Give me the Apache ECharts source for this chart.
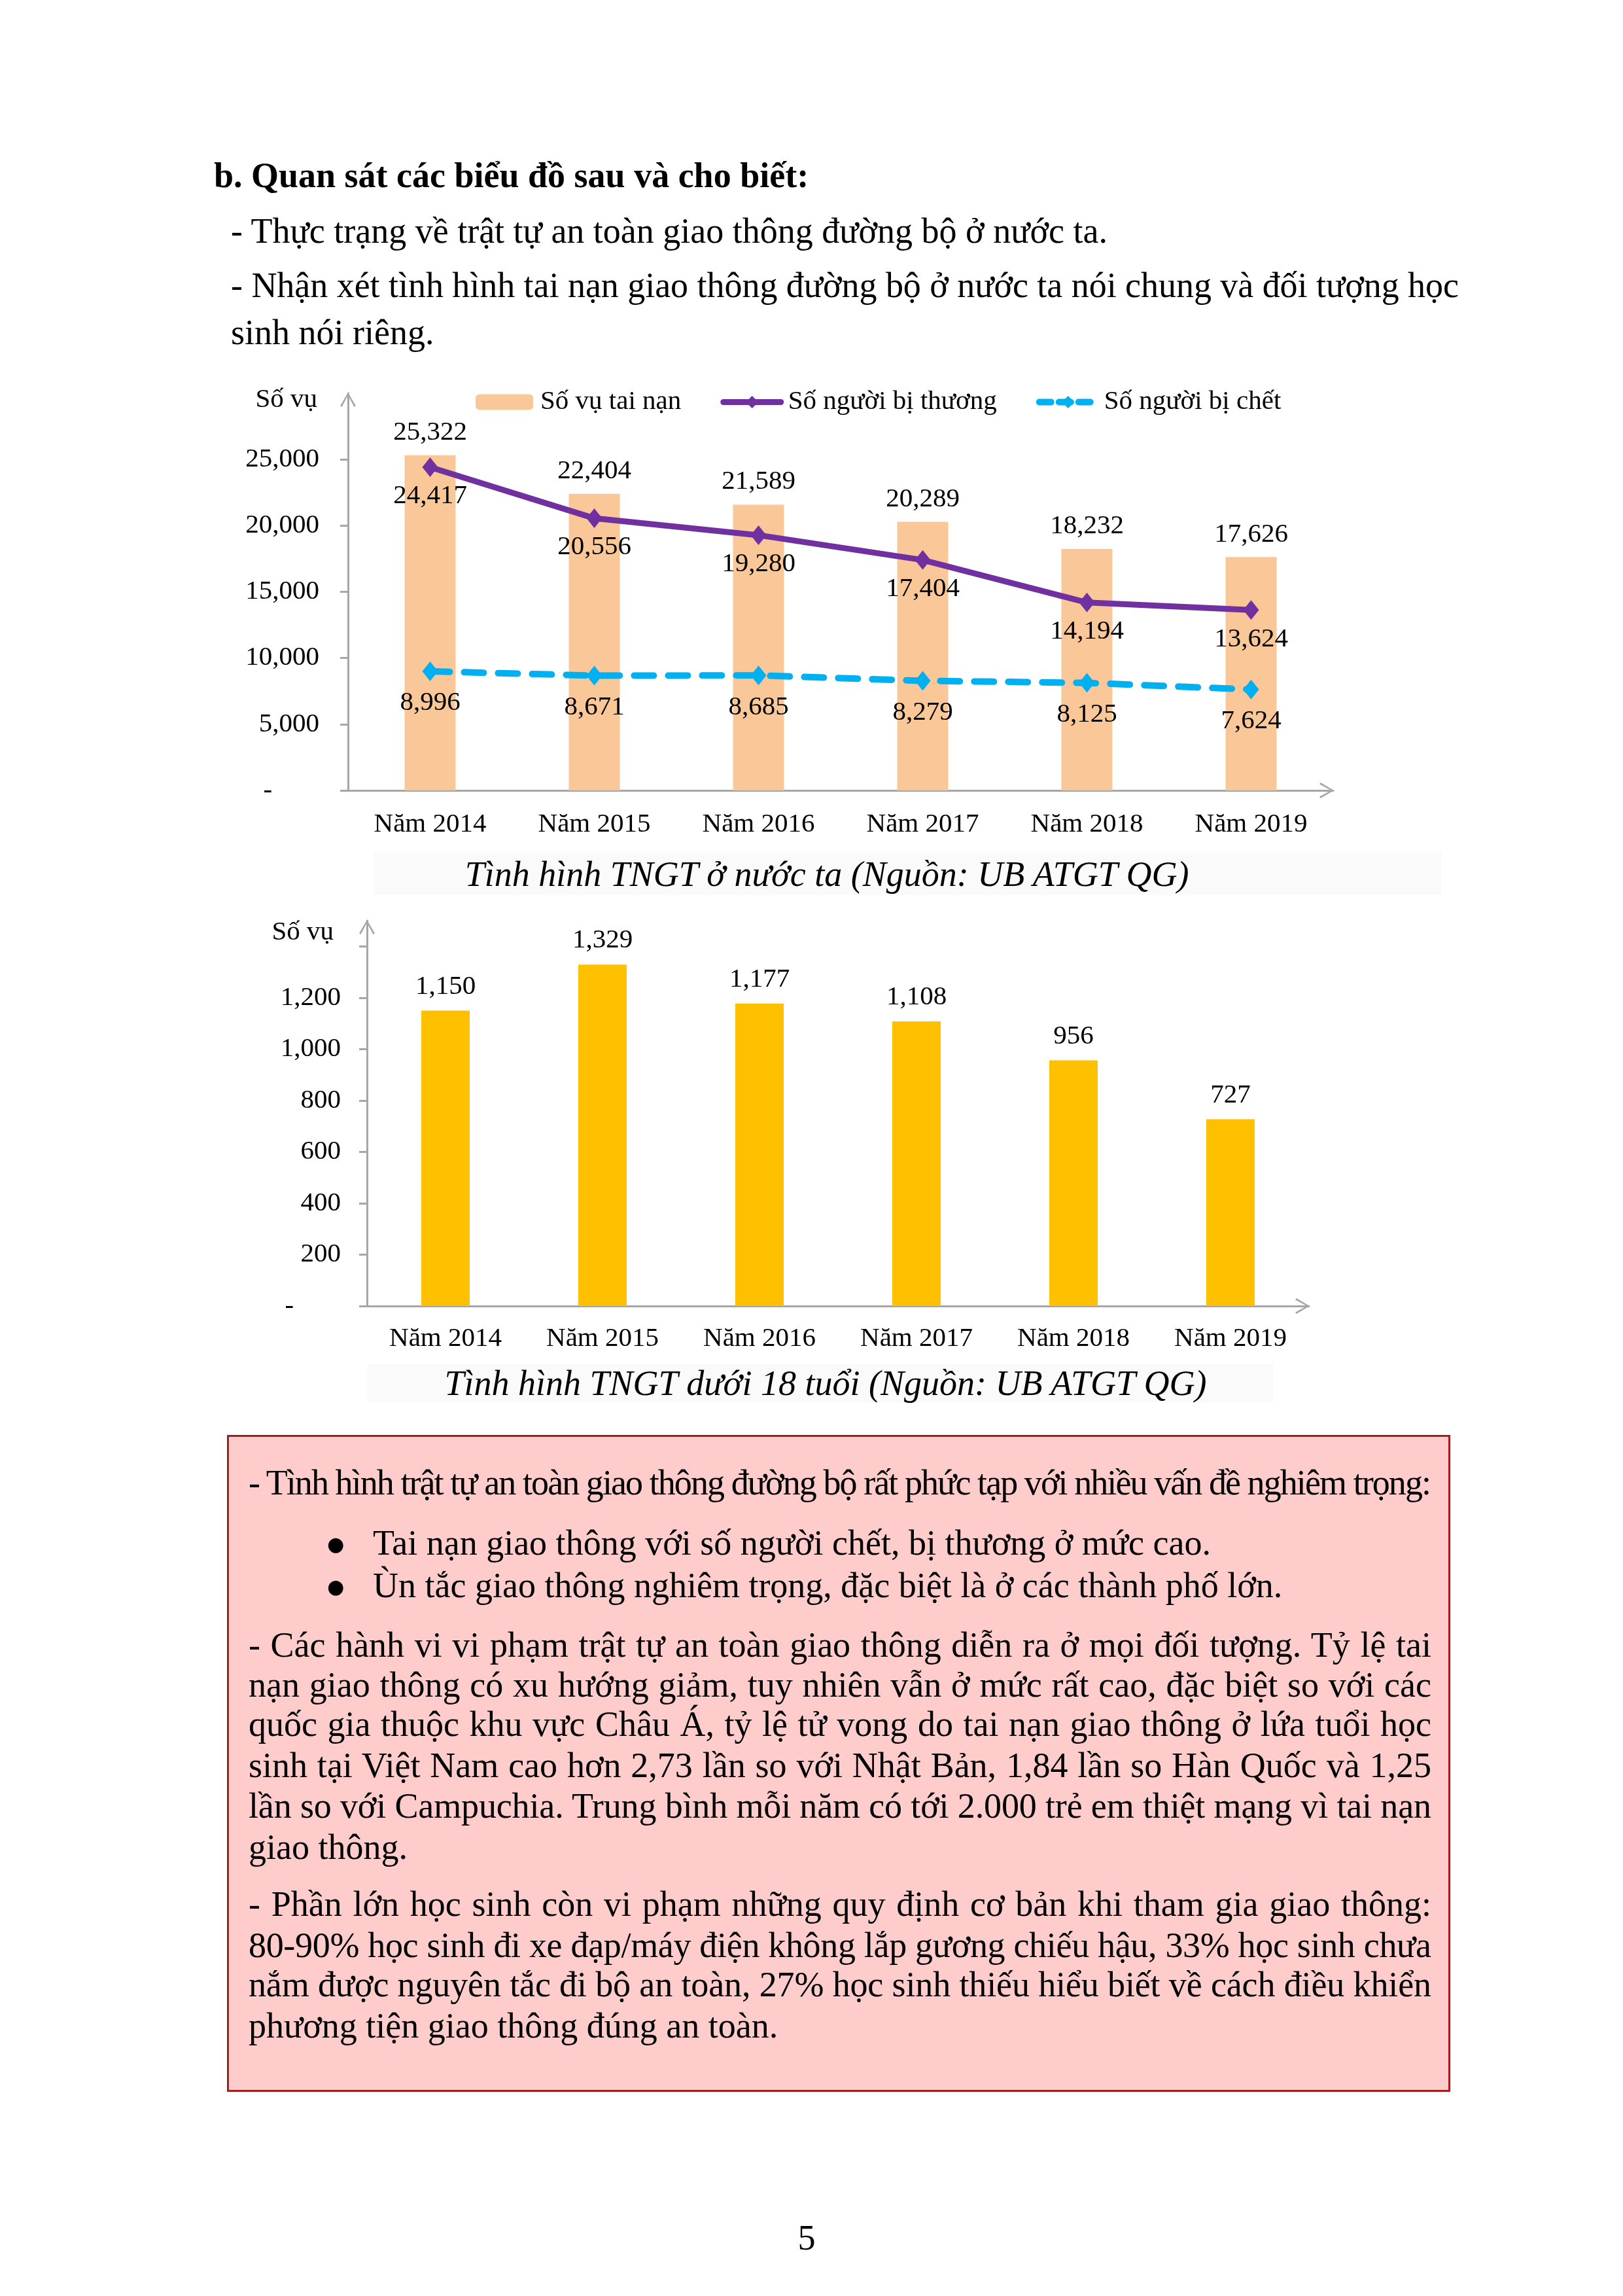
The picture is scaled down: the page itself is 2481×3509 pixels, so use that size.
<!DOCTYPE html>
<html>
<head>
<meta charset="utf-8">
<script src="https://cdn.jsdelivr.net/npm/echarts@6/dist/echarts.min.js"></script>
<style>
  html, body { margin:0; padding:0; background:#fff; }
  #page { position:relative; width:2481px; height:3509px; overflow:hidden; background:#fff; }
  #chart { position:absolute; left:0; top:0; width:2481px; height:3509px; z-index:1; }
  .t { position:absolute; font-family:'Liberation Serif','Times New Roman',serif; font-size:54px; line-height:62px; white-space:nowrap; color:#000; z-index:3; }
  .b { font-weight:bold; }
  .i { font-style:italic; }
  .bul { font-family:'DejaVu Sans',sans-serif; font-size:30px; }
  .box { position:absolute; left:347px; top:2193px; width:1870px; height:1004px; box-sizing:border-box; background:#FFCCCC; border:3px solid #A31F1F; z-index:0; }
  .capbg { position:absolute; background:#FAFAFA; z-index:0; }
</style>
</head>
<body>
<div id="page">
  <div class="capbg" style="left:572px;top:1303px;width:1631px;height:65px"></div>
  <div class="capbg" style="left:562px;top:2085px;width:1384px;height:58px"></div>
  <div class="box"></div>
  <div id="chart"></div>

  <div class="t b" style="left:327px;top:237px">b. Quan sát các biểu đồ sau và cho biết:</div>
  <div class="t" style="left:353px;top:322px">- Thực trạng về trật tự an toàn giao thông đường bộ ở nước ta.</div>
  <div class="t j" data-w="1877" style="left:353px;top:405px">- Nhận xét tình hình tai nạn giao thông đường bộ ở nước ta nói chung và đối tượng học</div>
  <div class="t" style="left:353px;top:477px">sinh nói riêng.</div>

  <div class="t i" style="left:1264px;top:1305px;transform:translateX(-50%)">Tình hình TNGT ở nước ta (Nguồn: UB ATGT QG)</div>
  <div class="t i" style="left:1262px;top:2083px;transform:translateX(-50%)">Tình hình TNGT dưới 18 tuổi (Nguồn: UB ATGT QG)</div>

  <div class="t j" data-w="1808" style="left:380px;top:2235px">- Tình hình trật tự an toàn giao thông đường bộ rất phức tạp với nhiều vấn đề nghiêm trọng:</div>
  <div class="t bul" style="left:500px;top:2329px">●</div>
  <div class="t" style="left:570px;top:2327px">Tai nạn giao thông với số người chết, bị thương ở mức cao.</div>
  <div class="t bul" style="left:500px;top:2394px">●</div>
  <div class="t" style="left:570px;top:2392px">Ùn tắc giao thông nghiêm trọng, đặc biệt là ở các thành phố lớn.</div>

  <div class="t j" data-w="1808" style="left:380px;top:2483px">- Các hành vi vi phạm trật tự an toàn giao thông diễn ra ở mọi đối tượng. Tỷ lệ tai</div>
  <div class="t j" data-w="1808" style="left:380px;top:2544px">nạn giao thông có xu hướng giảm, tuy nhiên vẫn ở mức rất cao, đặc biệt so với các</div>
  <div class="t j" data-w="1808" style="left:380px;top:2604px">quốc gia thuộc khu vực Châu Á, tỷ lệ tử vong do tai nạn giao thông ở lứa tuổi học</div>
  <div class="t j" data-w="1808" style="left:380px;top:2667px">sinh tại Việt Nam cao hơn 2,73 lần so với Nhật Bản, 1,84 lần so Hàn Quốc và 1,25</div>
  <div class="t j" data-w="1808" style="left:380px;top:2729px">lần so với Campuchia. Trung bình mỗi năm có tới 2.000 trẻ em thiệt mạng vì tai nạn</div>
  <div class="t" style="left:380px;top:2792px">giao thông.</div>

  <div class="t j" data-w="1808" style="left:380px;top:2879px">- Phần lớn học sinh còn vi phạm những quy định cơ bản khi tham gia giao thông:</div>
  <div class="t j" data-w="1808" style="left:380px;top:2942px">80-90% học sinh đi xe đạp/máy điện không lắp gương chiếu hậu, 33% học sinh chưa</div>
  <div class="t j" data-w="1808" style="left:380px;top:3002px">nắm được nguyên tắc đi bộ an toàn, 27% học sinh thiếu hiểu biết về cách điều khiển</div>
  <div class="t" style="left:380px;top:3065px">phương tiện giao thông đúng an toàn.</div>

  <div class="t" style="left:1233px;top:3389px;transform:translateX(-50%)">5</div>
</div>
<script>
// ---------- data ----------
const categories = ['Năm 2014', 'Năm 2015', 'Năm 2016', 'Năm 2017', 'Năm 2018', 'Năm 2019'];
const accidents  = [25322, 22404, 21589, 20289, 18232, 17626];   // Số vụ tai nạn
const injured    = [24417, 20556, 19280, 17404, 14194, 13624];   // Số người bị thương
const deaths     = [8996, 8671, 8685, 8279, 8125, 7624];         // Số người bị chết
const under18    = [1150, 1329, 1177, 1108, 956, 727];           // TNGT dưới 18 tuổi
const yLabels1   = [0, 5000, 10000, 15000, 20000, 25000];
const yLabels2   = [0, 200, 400, 600, 800, 1000, 1200];
const yTicks2    = [0, 200, 400, 600, 800, 1000, 1200, 1400];
const seriesNames = ['Số vụ tai nạn', 'Số người bị thương', 'Số người bị chết'];
const axisName = 'Số vụ';

// ---------- justify lines ----------
document.querySelectorAll('.j').forEach(el => {
  const w = +el.dataset.w;
  const nat = el.getBoundingClientRect().width;
  const txt = el.textContent;
  if (nat > w) {
    el.style.letterSpacing = ((w - nat) / (txt.length - 1)) + 'px';
  } else {
    const spaces = (txt.match(/ /g) || []).length;
    if (spaces) el.style.wordSpacing = ((w - nat) / spaces) + 'px';
  }
});

// ---------- chart ----------
const FONT = 'Liberation Serif';
const AX = '#A6A6A6';
const PURPLE = '#7030A0';
const CYAN = '#00B0F0';
const chev = 'path://M0,17 L10,0 L20,17 L18,18.5 L10,3.5 L2,18.5 Z';
const fmt = v => v === 0 ? '-       ' : v.toLocaleString('en-US');
const num = p => p.value.toLocaleString('en-US');
const lbl = { fontFamily: FONT, fontSize: 41, color: '#000' };
const arrowLine = { lineStyle: { color: AX, width: 3 }, symbol: ['none', chev], symbolSize: [24, 22], symbolOffset: [0, -10] };

const chart = echarts.init(document.getElementById('chart'), null, { renderer: 'canvas' });
chart.setOption({
  animation: false,
  textStyle: { fontFamily: FONT },
  grid: [
    { left: 532, top: 601, width: 1506, height: 607 },
    { left: 561, top: 1407, width: 1440, height: 589 }
  ],
  legend: {
    left: 722, top: 589, itemWidth: 88, itemHeight: 24, itemGap: 60,
    textStyle: { fontFamily: FONT, fontSize: 41, color: '#000', padding: [0, 0, 0, 6] },
    data: [
      { name: seriesNames[0] },
      { name: seriesNames[1], lineStyle: { width: 9, color: PURPLE, cap: 'round' }, itemStyle: { color: PURPLE } },
      { name: seriesNames[2], lineStyle: { width: 10, color: CYAN, type: [18, 12], cap: 'round' }, itemStyle: { color: CYAN } }
    ]
  },
  xAxis: [
    { type: 'category', gridIndex: 0, data: categories,
      axisLine: arrowLine, axisTick: { show: false }, axisLabel: { ...lbl, margin: 32 } },
    { type: 'category', gridIndex: 1, data: categories,
      axisLine: arrowLine, axisTick: { show: false }, axisLabel: { ...lbl, margin: 30 } }
  ],
  yAxis: [
    { type: 'value', gridIndex: 0, min: 0, max: 30000, interval: 5000,
      name: axisName, nameLocation: 'end', nameGap: -10,
      nameTextStyle: { ...lbl, align: 'right', verticalAlign: 'middle', padding: [0, 47, 0, 0] },
      axisLine: { show: true, ...arrowLine },
      axisTick: { show: true, length: 12, lineStyle: { color: AX, width: 3 }, customValues: yLabels1 },
      axisLabel: { ...lbl, margin: 44, formatter: fmt, customValues: yLabels1 },
      splitLine: { show: false } },
    { type: 'value', gridIndex: 1, min: 0, max: 1500, interval: 100,
      name: axisName, nameLocation: 'end', nameGap: -18,
      nameTextStyle: { ...lbl, align: 'right', verticalAlign: 'middle', padding: [0, 51, 0, 0] },
      axisLine: { show: true, ...arrowLine },
      axisTick: { show: true, length: 12, lineStyle: { color: AX, width: 3 }, customValues: yTicks2 },
      axisLabel: { ...lbl, margin: 40, formatter: fmt, customValues: yLabels2 },
      splitLine: { show: false } }
  ],
  series: [
    { type: 'bar', name: seriesNames[0], xAxisIndex: 0, yAxisIndex: 0, data: accidents, barWidth: 78,
      itemStyle: { color: '#FAC898' }, z: 1,
      label: { show: true, position: 'top', distance: 14, ...lbl, formatter: num } },
    { type: 'line', name: seriesNames[1], xAxisIndex: 0, yAxisIndex: 0, data: injured,
      symbol: 'diamond', symbolSize: [24, 30], z: 3,
      lineStyle: { color: PURPLE, width: 9 }, itemStyle: { color: PURPLE },
      label: { show: true, position: 'bottom', distance: 9, ...lbl, formatter: num } },
    { type: 'line', name: seriesNames[2], xAxisIndex: 0, yAxisIndex: 0, data: deaths,
      symbol: 'diamond', symbolSize: [24, 30], z: 3,
      lineStyle: { color: CYAN, width: 10, type: [30, 22], cap: 'round' }, itemStyle: { color: CYAN },
      label: { show: true, position: 'bottom', distance: 13, ...lbl, formatter: num } },
    { type: 'bar', name: 'TNGT dưới 18 tuổi', xAxisIndex: 1, yAxisIndex: 1, data: under18, barWidth: 74,
      itemStyle: { color: '#FFC000' },
      label: { show: true, position: 'top', distance: 16, ...lbl, formatter: num } }
  ]
});
</script>
</body>
</html>
